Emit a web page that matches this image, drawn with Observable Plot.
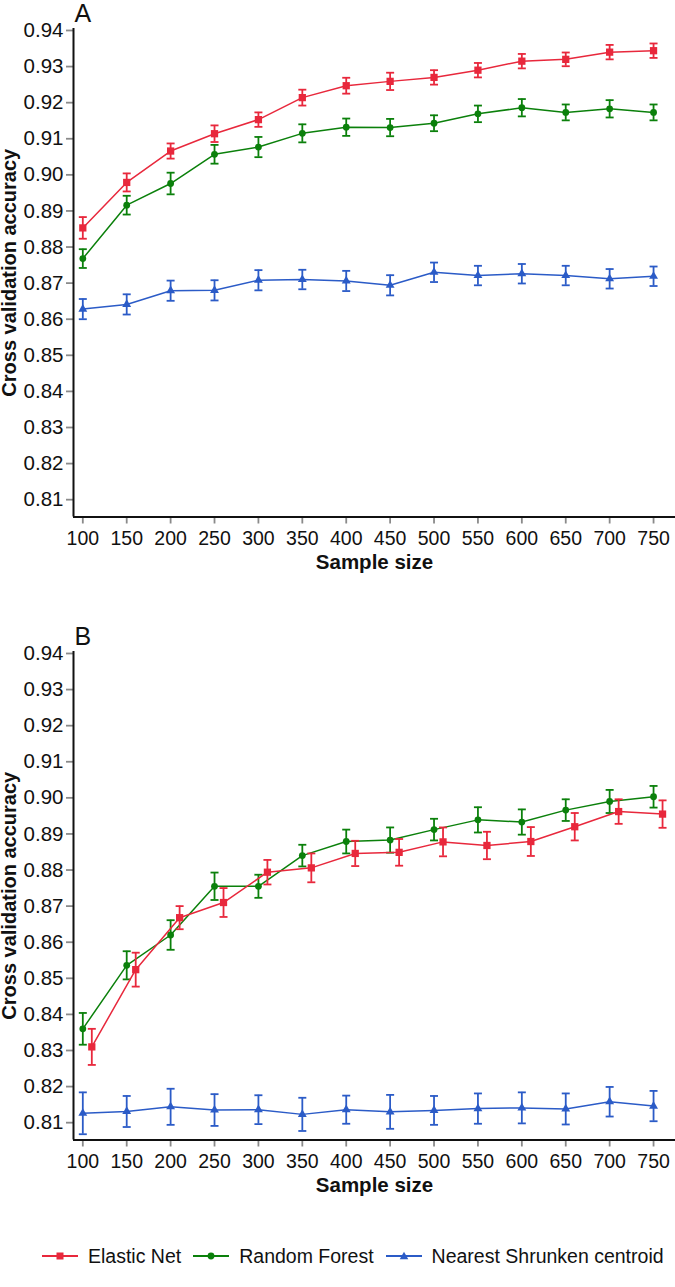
<!DOCTYPE html>
<html>
<head>
<meta charset="utf-8">
<script src="https://cdn.jsdelivr.net/npm/d3@7"></script>
<script src="https://cdn.jsdelivr.net/npm/@observablehq/plot@0.6"></script>
<style>
  html, body { margin: 0; padding: 0; background: #fff; }
  body { width: 675px; height: 1287px; position: relative; overflow: hidden; font-family: "Liberation Sans", Arial, Helvetica, sans-serif; }
  #panelA { position: absolute; left: 0; top: 0; }
  #panelB { position: absolute; left: 0; top: 623px; }
  #legend { position: absolute; left: 42px; top: 1244px; height: 24px; display: flex; align-items: center; font-size: 19.5px; color: #111; white-space: nowrap; }
  .item { display: flex; align-items: center; margin-right: 12px; }
  .item svg { margin-right: 10px; }
</style>
</head>
<body>
<div id="panelA"></div>
<div id="panelB"></div>
<div id="legend"></div>
<script>
// ---- data ----
const sizes = [100, 150, 200, 250, 300, 350, 400, 450, 500, 550, 600, 650, 700, 750];
const yTicks = [0.81, 0.82, 0.83, 0.84, 0.85, 0.86, 0.87, 0.88, 0.89, 0.90, 0.91, 0.92, 0.93, 0.94];
const seriesNames = ["Elastic Net", "Random Forest", "Nearest Shrunken centroid"];
const panelLabels = ["A", "B"];

// Panel A
const enA     = [0.8853, 0.8979, 0.9066, 0.9114, 0.9153, 0.9214, 0.9247, 0.9259, 0.9270, 0.9290, 0.9315, 0.9320, 0.9340, 0.9344];
const enAerr  = [0.0030, 0.0025, 0.0021, 0.0023, 0.0020, 0.0022, 0.0022, 0.0024, 0.0020, 0.0020, 0.0020, 0.0019, 0.0020, 0.0020];
const rfA     = [0.8768, 0.8916, 0.8976, 0.9057, 0.9077, 0.9115, 0.9132, 0.9131, 0.9143, 0.9169, 0.9186, 0.9173, 0.9183, 0.9173];
const rfAerr  = [0.0026, 0.0026, 0.0030, 0.0026, 0.0028, 0.0025, 0.0024, 0.0024, 0.0022, 0.0023, 0.0024, 0.0022, 0.0024, 0.0022];
const nscA    = [0.8628, 0.8641, 0.8679, 0.8680, 0.8708, 0.8710, 0.8706, 0.8694, 0.8730, 0.8721, 0.8726, 0.8721, 0.8712, 0.8719];
const nscAerr = [0.0028, 0.0028, 0.0028, 0.0028, 0.0028, 0.0027, 0.0028, 0.0028, 0.0027, 0.0027, 0.0027, 0.0027, 0.0027, 0.0027];

// Panel B
const enB     = [0.8310, 0.8524, 0.8668, 0.8710, 0.8794, 0.8806, 0.8846, 0.8849, 0.8878, 0.8868, 0.8879, 0.8920, 0.8962, 0.8955];
const enBerr  = [0.0050, 0.0047, 0.0032, 0.0040, 0.0034, 0.0040, 0.0035, 0.0037, 0.0040, 0.0038, 0.0040, 0.0038, 0.0034, 0.0038];
const rfB     = [0.8360, 0.8536, 0.8620, 0.8755, 0.8755, 0.8840, 0.8879, 0.8883, 0.8912, 0.8939, 0.8933, 0.8966, 0.8990, 0.9003];
const rfBerr  = [0.0044, 0.0039, 0.0041, 0.0038, 0.0032, 0.0030, 0.0033, 0.0035, 0.0030, 0.0035, 0.0035, 0.0030, 0.0032, 0.0030];
const nscB    = [0.8126, 0.8131, 0.8144, 0.8135, 0.8136, 0.8123, 0.8136, 0.8130, 0.8134, 0.8139, 0.8141, 0.8138, 0.8158, 0.8146];
const nscBerr = [0.0058, 0.0043, 0.0050, 0.0044, 0.0040, 0.0046, 0.0039, 0.0047, 0.0040, 0.0042, 0.0043, 0.0043, 0.0041, 0.0042];

// ---- styles ----
const colors = ["#e8283c", "#0b800b", "#2b5bc7"];
const symbols = ["square", "circle", "triangle"];
const symR = [4.1, 3.4, 3.3];
const xDomain = [89.4, 775];
const yDomain = [0.8052, 0.94055];
const FONT = '"Liberation Sans", Arial, Helvetica, sans-serif';

// horizontal cap symbol for error bars
const capSymbol = {
  draw(context, size) {
    const w = Math.sqrt(size / Math.PI);
    context.moveTo(-w, 0);
    context.lineTo(w, 0);
  }
};

function rows(vals, errs) {
  return sizes.map((n, i) => ({n, v: vals[i], e: errs[i]}));
}

function seriesMarks(data, k, dx) {
  const c = colors[k];
  return [
    Plot.line(data, {x: "n", y: "v", stroke: c, strokeWidth: 1.5, dx}),
    Plot.ruleX(data, {x: "n", y1: d => d.v - d.e, y2: d => d.v + d.e, stroke: c, strokeWidth: 1.8, dx}),
    Plot.dot(data, {x: "n", y: d => d.v - d.e, symbol: capSymbol, r: 4, stroke: c, strokeWidth: 1.8, dx}),
    Plot.dot(data, {x: "n", y: d => d.v + d.e, symbol: capSymbol, r: 4, stroke: c, strokeWidth: 1.8, dx}),
    Plot.dot(data, {x: "n", y: "v", symbol: symbols[k], r: symR[k], fill: c, stroke: "none", dx})
  ];
}

function panel(label, series, dxs) {
  return Plot.plot({
    width: 675,
    height: 600,
    marginTop: 28,
    marginLeft: 73,
    marginRight: 0,
    marginBottom: 83.5,
    style: {fontFamily: FONT, background: "white", overflow: "visible", color: "#111"},
    x: {domain: xDomain},
    y: {domain: yDomain},
    marks: [
      Plot.axisY({ticks: yTicks, tickFormat: d3.format(".2f"), tickSize: 7, tickPadding: 3,
        stroke: "#8a8a8a", strokeWidth: 1.8, fill: "#111", fontSize: 20.5, label: null}),
      Plot.axisX({ticks: sizes, tickFormat: d => String(d), tickSize: 7, tickPadding: 7,
        stroke: "#8a8a8a", strokeWidth: 1.8, fill: "#111", fontSize: 19.5, label: null}),
      Plot.ruleX([xDomain[0]], {stroke: "#111", strokeWidth: 2}),
      Plot.ruleY([yDomain[0]], {stroke: "#111", strokeWidth: 2}),
      Plot.text([label], {frameAnchor: "top-left", text: d => d, dx: 1, dy: -7, textAnchor: "start", lineAnchor: "bottom", fontSize: 25, fill: "#111"}),
      Plot.text(["Cross validation accuracy"], {frameAnchor: "left", text: d => d, rotate: -90, dx: -64, fontWeight: "bold", fontSize: 20, lineAnchor: "middle", textAnchor: "middle", fill: "#111"}),
      Plot.text(["Sample size"], {frameAnchor: "bottom", text: d => d, dy: 45, fontWeight: "bold", fontSize: 20.5, lineAnchor: "middle", textAnchor: "middle", fill: "#111"}),
      ...seriesMarks(series[2], 2, dxs[2]),
      ...seriesMarks(series[1], 1, dxs[1]),
      ...seriesMarks(series[0], 0, dxs[0])
    ]
  });
}

document.getElementById("panelA").appendChild(
  panel(panelLabels[0], [rows(enA, enAerr), rows(rfA, rfAerr), rows(nscA, nscAerr)], [0, 0, 0])
);
document.getElementById("panelB").appendChild(
  panel(panelLabels[1], [rows(enB, enBerr), rows(rfB, rfBerr), rows(nscB, nscBerr)], [9, 0, 0])
);

// ---- legend ----
const legend = document.getElementById("legend");
const symPaths = [
  '<rect x="14.5" y="6.5" width="7" height="7"/>',
  '<circle cx="18" cy="10" r="3.4"/>',
  '<path d="M18,5.8 L22.3,13.3 L13.7,13.3 Z"/>'
];
seriesNames.forEach((name, k) => {
  const item = document.createElement("div");
  item.className = "item";
  item.innerHTML = `<svg width="36" height="20"><line x1="0" y1="10" x2="36" y2="10" stroke="${colors[k]}" stroke-width="2"/><g fill="${colors[k]}">${symPaths[k]}</g></svg><span>${name}</span>`;
  legend.appendChild(item);
});
</script>
</body>
</html>
